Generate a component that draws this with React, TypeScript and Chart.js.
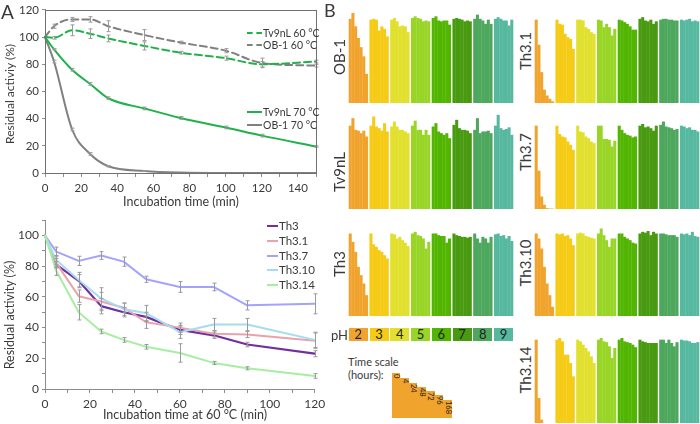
import React, { useEffect, useRef } from 'react';
import { Chart, registerables } from 'chart.js';
Chart.register(...registerables);

const FONT = 'Lato, "Noto Sans", sans-serif';
const TEXT = '#3a3a3a';
const AXIS = '#8c8c8c';
const ERR = '#9a9a9a';

// ---------- Panel A (top): thermal stability ----------
const A1_X = [0, 5, 15, 25, 35, 55, 75, 100, 120, 150];
const TV9NL_60 = [100, 99.5, 105, 102.5, 99, 93.5, 88.5, 84.5, 80, 82];
const TV9NL_60_ERR = [0, 1, 4, 3.5, 2.5, 3, 1, 1.5, 2, 1];
const OB1_60 = [100, 108, 113, 113, 108, 101.5, 96, 90, 81, 79];
const OB1_60_ERR = [0, 1.5, 1.5, 2, 4, 4, 1, 1.5, 3.5, 1];
const TV9NL_70 = [100, 91, 76, 65.5, 55, 47.5, 40.5, 33.5, 27.5, 19.5];
const TV9NL_70_ERR = [0, 0.5, 1, 1, 1, 1, 1, 1, 1, 0.5];
const OB1_70 = [100, 82, 32, 14, 5, 1.5, 0.3, 0, 0, 0];
const OB1_70_ERR = [0, 1, 1, 1, 0.5, 0.3, 0, 0, 0, 0];

// ---------- Panel A (bottom): variants at 60 °C ----------
const A2_X = [0, 5, 15, 25, 35, 45, 60, 75, 90, 120];
const TH3 = [100, 81, 70.5, 54, 50, 47, 38.5, 35, 29, 23];
const TH3_ERR = [0, 2, 4, 5, 3, 3, 3, 2, 1.5, 2];
const TH3_1 = [100, 82, 60.5, 57, 53, 43.5, 40, 36, 35.5, 31.5];
const TH3_1_ERR = [0, 3, 4, 6, 3, 4, 3, 2, 2, 5];
const TH3_7 = [100, 89.5, 83.5, 87, 83, 71.5, 66.5, 66.5, 54.5, 55.5];
const TH3_7_ERR = [0, 3, 3, 2.5, 3, 2, 3.5, 2.5, 3, 6.5];
const TH3_10 = [100, 84, 71, 59, 52, 49.5, 37, 42, 42, 32];
const TH3_10_ERR = [0, 3, 5, 7, 4, 5, 4, 4, 4, 5];
const TH3_14 = [100, 77, 50, 37.5, 32, 27.5, 23.5, 17, 13.5, 8.5];
const TH3_14_ERR = [0, 3, 5, 1.5, 1.5, 1.5, 6, 1, 1, 1.5];

// ---------- Panel B: pH stability (rows = pH 2..9, cols = time points) ----------
const PH_LABELS = ['2', '3', '4', '5', '6', '7', '8', '9'];
const PH_COLORS = ['#F0A32D', '#F5CB16', '#E1E02E', '#98D526', '#52B501', '#489A10', '#4DA75D', '#55B89F'];
const TIME_LABELS = ['0', '4', '24', '48', '72', '96', '168'];

const B_OB1 = [
  [101, 108, 92, 78, 67, 56, 35],
  [100, 101, 100, 87, 92, 89, 80],
  [100, 102, 98, 92, 93, 92, 85],
  [102, 104, 102, 101, 98, 99, 98],
  [102, 104, 99, 98, 99, 99, 94],
  [101, 102, 101, 100, 98, 99, 98],
  [101, 106, 101, 99, 95, 100, 95],
  [101, 103, 101, 99, 99, 93, 100],
];
const B_TV9NL = [
  [100, 109, 95, 94, 91, 94, 87],
  [100, 111, 99, 97, 94, 103, 93],
  [99, 105, 99, 95, 95, 93, 91],
  [100, 106, 95, 95, 89, 95, 89],
  [99, 103, 93, 91, 89, 91, 85],
  [101, 107, 97, 95, 95, 94, 91],
  [95, 109, 91, 93, 93, 94, 91],
  [100, 113, 97, 95, 96, 98, 89],
];
const B_TH3 = [
  [99, 89, 77, 59, 49, 39, 25],
  [99, 86, 83, 79, 77, 73, 69],
  [99, 98, 93, 95, 91, 88, 84],
  [99, 101, 97, 96, 93, 81, 89],
  [99, 99, 97, 96, 96, 88, 93],
  [99, 97, 96, 95, 95, 94, 95],
  [99, 93, 88, 95, 93, 88, 95],
  [98, 99, 96, 97, 93, 96, 90],
];
const B_TH3_1 = [
  [100, 70, 37, 16, 9, 5, 2],
  [100, 95, 94, 83, 79, 77, 65],
  [100, 100, 99, 91, 89, 85, 83],
  [100, 99, 91, 95, 91, 81, 89],
  [100, 99, 97, 95, 92, 88, 88],
  [101, 103, 99, 98, 100, 95, 98],
  [100, 101, 101, 100, 100, 99, 99],
  [100, 99, 100, 101, 98, 99, 98],
];
const B_TH3_7 = [
  [100, 46, 15, 5, 1, 0.5, 0.5],
  [100, 90, 87, 86, 81, 77, 71],
  [100, 93, 92, 87, 85, 81, 79],
  [100, 100, 84, 84, 83, 75, 82],
  [100, 95, 91, 89, 88, 86, 87],
  [100, 102, 98, 99, 97, 94, 100],
  [101, 105, 99, 98, 97, 95, 96],
  [100, 99, 97, 98, 95, 95, 93],
];
const B_TH3_10 = [
  [99, 93, 81, 59, 39, 25, 11],
  [99, 98, 99, 96, 97, 93, 85],
  [99, 100, 99, 96, 95, 94, 93],
  [99, 105, 97, 91, 83, 93, 93],
  [99, 99, 95, 93, 91, 88, 87],
  [99, 101, 100, 102, 97, 101, 99],
  [99, 99, 98, 97, 97, 97, 95],
  [99, 98, 99, 97, 101, 96, 95],
];
const B_TH3_14 = [
  [100, 30, 4, 0, 0, 0, 0],
  [100, 102, 98, 82, 82, 72, 56],
  [100, 98, 94, 90, 86, 80, 72],
  [100, 102, 98, 97, 92, 78, 90],
  [100, 102, 98, 97, 96, 94, 91],
  [100, 98, 97, 96, 96, 96, 96],
  [100, 100, 96, 100, 96, 92, 97],
  [100, 99, 99, 98, 96, 96, 97],
];

const GREEN = '#1FB14A';
const GRAY = '#808080';

type Series = { label: string; values: number[]; errors: number[]; color: string; width: number; dash?: number[] };

const errorBarPlugin = {
  id: 'errorBars',
  afterDatasetsDraw(chart: any) {
    const ctx = chart.ctx;
    const xs = chart.scales.x;
    const ys = chart.scales.y;
    ctx.save();
    ctx.strokeStyle = ERR;
    ctx.lineWidth = 1;
    chart.data.datasets.forEach((ds: any) => {
      const errs = ds.errors;
      if (!errs) return;
      ds.data.forEach((p: any, i: number) => {
        const e = errs[i];
        if (!e) return;
        const x = Math.round(xs.getPixelForValue(p.x)) + 0.5;
        const y1 = ys.getPixelForValue(p.y + e);
        const y2 = ys.getPixelForValue(p.y - e);
        ctx.beginPath();
        ctx.moveTo(x, y1); ctx.lineTo(x, y2);
        ctx.moveTo(x - 2, y1); ctx.lineTo(x + 2, y1);
        ctx.moveTo(x - 2, y2); ctx.lineTo(x + 2, y2);
        ctx.stroke();
      });
    });
    ctx.restore();
  },
};

const framePlugin = {
  id: 'frame',
  afterDraw(chart: any) {
    const { left, top, right, bottom } = chart.chartArea;
    const ctx = chart.ctx;
    ctx.save();
    ctx.strokeStyle = '#707070';
    ctx.lineWidth = 1;
    ctx.strokeRect(Math.round(left) + 0.5, Math.round(top) + 0.5, Math.round(right - left), Math.round(bottom - top));
    ctx.restore();
  },
};

type LineProps = {
  left: number; top: number; w: number; h: number;
  padTop: number; padRight: number; xAxisH: number; yAxisW: number;
  xs: number[]; series: Series[]; xMax: number; yMax: number; yStep: number; yLabelMax: number;
  smooth: boolean; frame: boolean; tickSize: number;
};

function LineChart(p: LineProps) {
  const ref = useRef<HTMLCanvasElement>(null);
  useEffect(() => {
    const tickFont = { family: FONT, size: p.tickSize };
    const chart = new Chart(ref.current as HTMLCanvasElement, {
      type: 'line',
      data: {
        datasets: p.series.map((s) => ({
          label: s.label,
          data: p.xs.map((x, i) => ({ x, y: s.values[i] })),
          errors: s.errors,
          borderColor: s.color,
          backgroundColor: s.color,
          borderWidth: s.width,
          borderDash: s.dash || [],
          borderCapStyle: 'round',
          borderJoinStyle: 'round',
          pointRadius: 0,
          fill: false,
          tension: p.smooth ? 0.4 : 0,
          cubicInterpolationMode: p.smooth ? 'monotone' : 'default',
          clip: false,
        })) as any,
      },
      options: {
        animation: false,
        responsive: false,
        devicePixelRatio: 1,
        events: [],
        layout: { padding: { top: p.padTop, right: p.padRight, left: 0, bottom: 0 } },
        plugins: { legend: { display: false }, tooltip: { enabled: false } },
        scales: {
          x: {
            type: 'linear',
            min: 0,
            max: p.xMax,
            afterFit: (s: any) => { s.height = p.xAxisH; },
            border: { display: true, color: AXIS, width: 1 },
            grid: { drawOnChartArea: false, drawTicks: true, tickLength: 4, color: AXIS },
            ticks: {
              stepSize: 10, autoSkip: false, maxRotation: 0, padding: 4, color: TEXT, font: tickFont,
              callback: (v: any) => (Number(v) % 20 === 0 ? String(v) : ''),
            },
          },
          y: {
            min: 0,
            max: p.yMax,
            afterFit: (s: any) => { s.width = p.yAxisW; },
            border: { display: true, color: AXIS, width: 1 },
            grid: { drawOnChartArea: false, drawTicks: true, tickLength: 3, color: AXIS },
            ticks: {
              stepSize: p.yStep, autoSkip: false, padding: 3, color: TEXT, font: tickFont,
              callback: (v: any) => (Number(v) % 20 === 0 && Number(v) <= p.yLabelMax ? String(v) : ''),
            },
          },
        },
      } as any,
      plugins: p.frame ? [errorBarPlugin, framePlugin] : [errorBarPlugin],
    });
    return () => chart.destroy();
  }, []);
  return (
    <canvas ref={ref} width={p.w} height={p.h}
      style={{ position: 'absolute', left: p.left, top: p.top, width: p.w, height: p.h }} />
  );
}

function PhBars({ data, left, top }: { data: number[][]; left: number; top: number }) {
  const ref = useRef<HTMLCanvasElement>(null);
  useEffect(() => {
    const datasets = TIME_LABELS.map((t, ti) => ({
      label: t + ' h',
      data: data.map((g) => g[ti]),
      backgroundColor: PH_COLORS,
      borderWidth: 0,
      barPercentage: 1.12,
      categoryPercentage: 0.918,
    }));
    const chart = new Chart(ref.current as HTMLCanvasElement, {
      type: 'bar',
      data: { labels: PH_LABELS, datasets },
      options: {
        animation: false,
        responsive: false,
        devicePixelRatio: 1,
        events: [],
        layout: { padding: 0 },
        plugins: { legend: { display: false }, tooltip: { enabled: false } },
        scales: {
          x: { display: false },
          y: { display: false, min: 0, max: 115.2 },
        },
      } as any,
    });
    return () => chart.destroy();
  }, []);
  return (
    <canvas ref={ref} width={166} height={96}
      style={{ position: 'absolute', left, top, width: 166, height: 96 }} />
  );
}

function Txt({ x, y, size, children, rot, center, color, weight }: any) {
  const tr = center ? `translate(-50%,-50%)${rot ? ` rotate(${rot}deg)` : ''}` : 'translateY(-50%)';
  return (
    <div style={{
      position: 'absolute', left: x, top: y, fontSize: size, lineHeight: 1, whiteSpace: 'nowrap',
      transform: tr, color: color || TEXT, fontWeight: weight || 400,
    }}>{children}</div>
  );
}

function LegendItem({ x, y, len, color, dash, text, size }: any) {
  return (
    <>
      <div style={{ position: 'absolute', left: x, top: y - 1, width: len, height: 0, borderTop: `2px ${dash ? 'dashed' : 'solid'} ${color}` }} />
      <Txt x={x + len + 1} y={y} size={size}>{text}</Txt>
    </>
  );
}

const TOP_SERIES: Series[] = [
  { label: 'Tv9nL 60 °C', values: TV9NL_60, errors: TV9NL_60_ERR, color: GREEN, width: 2, dash: [7, 4] },
  { label: 'OB-1 60 °C', values: OB1_60, errors: OB1_60_ERR, color: GRAY, width: 2, dash: [7, 4] },
  { label: 'Tv9nL 70 °C', values: TV9NL_70, errors: TV9NL_70_ERR, color: GREEN, width: 2 },
  { label: 'OB-1 70 °C', values: OB1_70, errors: OB1_70_ERR, color: GRAY, width: 2 },
];

const BOTTOM_SERIES: Series[] = [
  { label: 'Th3.14', values: TH3_14, errors: TH3_14_ERR, color: '#A6EFA2', width: 2 },
  { label: 'Th3.10', values: TH3_10, errors: TH3_10_ERR, color: '#A6DCF0', width: 2 },
  { label: 'Th3.7', values: TH3_7, errors: TH3_7_ERR, color: '#A3A3FF', width: 2 },
  { label: 'Th3.1', values: TH3_1, errors: TH3_1_ERR, color: '#E9A3AC', width: 2 },
  { label: 'Th3', values: TH3, errors: TH3_ERR, color: '#7030A0', width: 2.2 },
];

const B_PANELS = [
  { name: 'OB-1', data: B_OB1, left: 348, top: 7, lx: 339, ly: 57 },
  { name: 'Tv9nL', data: B_TV9NL, left: 348, top: 113, lx: 339, ly: 172 },
  { name: 'Th3', data: B_TH3, left: 348, top: 220, lx: 339, ly: 264 },
  { name: 'Th3.1', data: B_TH3_1, left: 534, top: 7, lx: 525, ly: 51 },
  { name: 'Th3.7', data: B_TH3_7, left: 534, top: 113, lx: 525, ly: 152 },
  { name: 'Th3.10', data: B_TH3_10, left: 534, top: 220, lx: 525, ly: 263 },
  { name: 'Th3.14', data: B_TH3_14, left: 534, top: 327, lx: 525, ly: 370 },
];

const STEP_H = [45, 40, 35.6, 31.6, 27.3, 23.3, 18.3];

export default function App() {
  return (
    <div style={{ position: 'absolute', left: 0, top: 0, width: 700, height: 424, background: '#fff', overflow: 'hidden', fontFamily: FONT, color: TEXT }}>
      <LineChart left={0} top={0} w={330} h={210} padTop={6} padRight={14} xAxisH={37} yAxisW={45}
        xs={A1_X} series={TOP_SERIES} xMax={150} yMax={120} yStep={20} yLabelMax={120}
        smooth={true} frame={true} tickSize={11.5} />
      <LineChart left={0} top={210} w={330} h={214} padTop={7.7} padRight={15.3} xAxisH={35} yAxisW={45}
        xs={A2_X} series={BOTTOM_SERIES} xMax={120} yMax={110} yStep={10} yLabelMax={100}
        smooth={false} frame={false} tickSize={12} />

      <Txt x={1} y={11} size={19}>A</Txt>
      <Txt x={10} y={94} size={12} rot={-90} center>Residual activiy (%)</Txt>
      <Txt x={181} y={202} size={12.5} center>Incubation time (min)</Txt>
      <Txt x={10} y={315} size={12.5} rot={-90} center>Residual activity (%)</Txt>
      <Txt x={185} y={415} size={12.5} center>Incubation time at 60 °C (min)</Txt>

      <LegendItem x={247} y={33} len={15} color={GREEN} dash text="Tv9nL 60 °C" size={10.5} />
      <LegendItem x={247} y={45} len={15} color={GRAY} dash text="OB-1 60 °C" size={10.5} />
      <LegendItem x={247} y={112} len={15} color={GREEN} text="Tv9nL 70 °C" size={10.5} />
      <LegendItem x={247} y={125} len={15} color={GRAY} text="OB-1 70 °C" size={10.5} />

      <LegendItem x={267} y={226} len={11} color="#7030A0" text="Th3" size={11.5} />
      <LegendItem x={267} y={241} len={11} color="#E9A3AC" text="Th3.1" size={11.5} />
      <LegendItem x={267} y={256} len={11} color="#A3A3FF" text="Th3.7" size={11.5} />
      <LegendItem x={267} y={270} len={11} color="#A6DCF0" text="Th3.10" size={11.5} />
      <LegendItem x={267} y={285} len={11} color="#A6EFA2" text="Th3.14" size={11.5} />

      <Txt x={324} y={10} size={18}>B</Txt>
      {B_PANELS.map((b) => (
        <React.Fragment key={b.name}>
          <PhBars data={b.data} left={b.left} top={b.top} />
          <Txt x={b.lx} y={b.ly} size={15} rot={-90} center>{b.name}</Txt>
        </React.Fragment>
      ))}

      <Txt x={339.5} y={335} size={13} center>pH</Txt>
      {PH_LABELS.map((l, i) => (
        <div key={l} style={{
          position: 'absolute', left: 348.85 + i * 20.75, top: 328, width: 19, height: 13,
          background: PH_COLORS[i], fontSize: 13, lineHeight: '13px', textAlign: 'center', color: '#222',
        }}>{l}</div>
      ))}

      <Txt x={348} y={361} size={11}>Time scale</Txt>
      <Txt x={348} y={374} size={11}>(hours):</Txt>
      <div style={{ position: 'absolute', left: 391.7, top: 373.3, height: 45, display: 'flex', alignItems: 'flex-end' }}>
        {TIME_LABELS.map((t, i) => (
          <div key={t} style={{
            width: 8.6, height: STEP_H[i], background: PH_COLORS[0], display: 'flex', justifyContent: 'center',
          }}>
            <div style={{ writingMode: 'vertical-rl', fontSize: 7.5, lineHeight: '8px', color: '#222', paddingTop: 1 }}>{t}</div>
          </div>
        ))}
      </div>
    </div>
  );
}
